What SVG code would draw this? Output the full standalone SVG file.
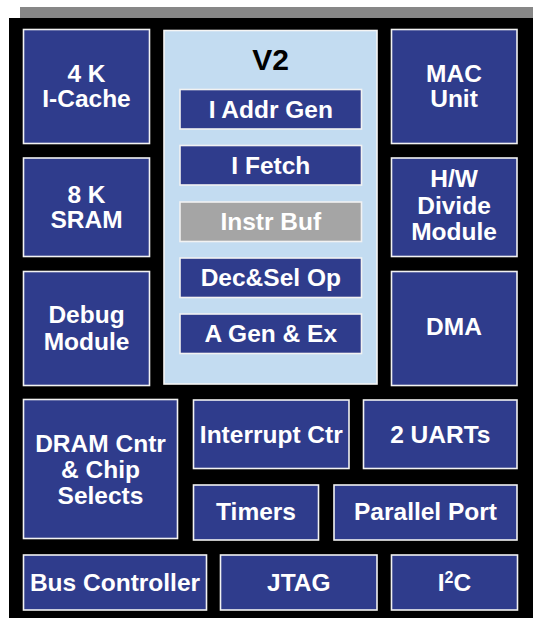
<svg xmlns="http://www.w3.org/2000/svg" width="533" height="618" viewBox="0 0 533 618">
<style>
.b{fill:#2f3c8c;stroke:#f2f2f2;stroke-width:1.6}
.g{fill:#a5a5a5;stroke:#f2f2f2;stroke-width:1.6}
.t{font-family:"Liberation Sans",Arial,sans-serif;font-weight:bold;font-size:24.5px;fill:#ffffff;text-anchor:middle}
.v{font-family:"Liberation Sans",Arial,sans-serif;font-weight:bold;font-size:30px;fill:#000000;text-anchor:middle}
</style>
<rect x="0" y="0" width="533" height="618" fill="#ffffff"/>
<rect x="20" y="7" width="513" height="11" fill="#878787"/>
<rect x="9" y="18" width="524" height="600" fill="#000000"/>
<g id="connectors"></g>
<g id="icache"><rect class="b" x="23.5" y="29.5" width="126" height="114"/><text class="t" x="86.5" y="82">4 K</text><text class="t" x="86.5" y="107">I-Cache</text></g>
<g id="sram"><rect class="b" x="23.5" y="158" width="126" height="98.5"/><text class="t" x="86.5" y="202.5">8 K</text><text class="t" x="86.5" y="227.5">SRAM</text></g>
<g id="debug"><rect class="b" x="23.5" y="271.5" width="126" height="114"/><text class="t" x="86.5" y="323">Debug</text><text class="t" x="86.5" y="349.5">Module</text></g>
<g id="v2"><rect x="164" y="30.5" width="213" height="353.5" fill="#c3dcf1" stroke="#f5f5f5" stroke-width="1.6"/><text class="v" x="270.5" y="70">V2</text></g>
<g id="iaddr"><rect class="b" x="180" y="89.5" width="181.5" height="39.5"/><text class="t" x="270.8" y="118">I Addr Gen</text></g>
<g id="ifetch"><rect class="b" x="180" y="145.5" width="181.5" height="39.5"/><text class="t" x="270.8" y="174">I Fetch</text></g>
<g id="instrbuf"><rect class="g" x="180" y="202" width="181.5" height="39.5"/><text class="t" x="270.8" y="229.5">Instr Buf</text></g>
<g id="decsel"><rect class="b" x="180" y="258" width="181.5" height="39.5"/><text class="t" x="270.8" y="286">Dec&amp;Sel Op</text></g>
<g id="agen"><rect class="b" x="180" y="314" width="181.5" height="39.5"/><text class="t" x="270.8" y="342">A Gen &amp; Ex</text></g>
<g id="mac"><rect class="b" x="391.5" y="29.5" width="125.5" height="114"/><text class="t" x="454" y="82">MAC</text><text class="t" x="454" y="107">Unit</text></g>
<g id="hwdiv"><rect class="b" x="391.5" y="158" width="125.5" height="98.5"/><text class="t" x="454" y="187">H/W</text><text class="t" x="454" y="213.5">Divide</text><text class="t" x="454" y="240">Module</text></g>
<g id="dma"><rect class="b" x="391.5" y="271.5" width="125.5" height="114"/><text class="t" x="454" y="335">DMA</text></g>
<g id="dram"><rect class="b" x="23.5" y="399.5" width="154" height="139"/><text class="t" x="100.5" y="452">DRAM Cntr</text><text class="t" x="100.5" y="478">&amp; Chip</text><text class="t" x="100.5" y="503.5">Selects</text></g>
<g id="intctr"><rect class="b" x="193.5" y="400" width="155.5" height="68.5"/><text class="t" x="271.3" y="443">Interrupt Ctr</text></g>
<g id="uarts"><rect class="b" x="363.5" y="400" width="153.5" height="68.5"/><text class="t" x="440.3" y="443">2 UARTs</text></g>
<g id="timers"><rect class="b" x="193.5" y="485" width="125" height="55"/><text class="t" x="256" y="519.5">Timers</text></g>
<g id="pport"><rect class="b" x="334" y="485" width="183" height="55"/><text class="t" x="425.5" y="519.5">Parallel Port</text></g>
<g id="busctl"><rect class="b" x="23.5" y="555" width="183" height="55"/><text class="t" x="115" y="590.5">Bus Controller</text></g>
<g id="jtag"><rect class="b" x="220.5" y="555" width="156.5" height="55"/><text class="t" x="298.8" y="590.5">JTAG</text></g>
<g id="i2c"><rect class="b" x="391.5" y="555" width="126" height="55"/><text class="t" x="454.5" y="590.5">I<tspan font-size="16" dy="-8">2</tspan><tspan dy="8">C</tspan></text></g>
</svg>
